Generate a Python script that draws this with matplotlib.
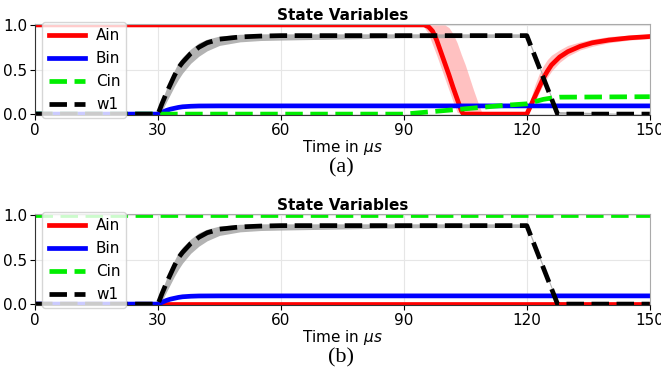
import numpy as np
import matplotlib
matplotlib.use('Agg')
import matplotlib.pyplot as plt

# ---- data (time in us) ----
t_w1 = [0, 30, 31, 32, 33, 34, 35, 36, 38, 40, 42, 45, 50, 55, 60, 90, 120, 127.5, 150]
w1 = [0, 0, 0.12, 0.23, 0.33, 0.43, 0.52, 0.58, 0.68, 0.75, 0.80, 0.84, 0.865, 0.875, 0.88, 0.88, 0.88, 0, 0]
w1_lo = [0, 0, 0.04, 0.13, 0.22, 0.31, 0.39, 0.46, 0.57, 0.65, 0.71, 0.77, 0.81, 0.825, 0.83, 0.855, 0.86, 0, 0]
w1_hi = [0, 0, 0.16, 0.28, 0.39, 0.49, 0.58, 0.64, 0.73, 0.80, 0.84, 0.875, 0.895, 0.9, 0.9, 0.9, 0.9, 0.03, 0]

t_bin = [0, 30, 31, 32, 33, 34, 35, 36, 38, 40, 45, 150]
bin_ = [0, 0, 0.02, 0.04, 0.055, 0.065, 0.075, 0.082, 0.088, 0.091, 0.092, 0.092]

t_ain_a = [0, 95, 96, 97, 98, 99, 100, 101, 102, 103, 104, 104.5, 120, 121, 122, 123, 124,
           125, 126, 128, 130, 133, 136, 140, 145, 150]
ain_a = [1, 1, 0.98, 0.93, 0.83, 0.7, 0.57, 0.44, 0.3, 0.17, 0.04, 0, 0, 0.1, 0.2, 0.3, 0.4,
         0.48, 0.55, 0.64, 0.7, 0.76, 0.8, 0.83, 0.855, 0.87]
t_band_a = [0, 94, 95, 96, 97, 98, 99, 100, 101, 102, 103, 104, 105, 106, 107, 108, 109, 109.5,
            120, 121, 122, 123, 124, 125, 126, 128, 130, 133, 136, 140, 145, 150]
ain_lo = [1, 1, 0.97, 0.9, 0.78, 0.66, 0.53, 0.4, 0.27, 0.14, 0.02, 0, 0, 0, 0, 0, 0, 0,
          0, 0.06, 0.14, 0.24, 0.33, 0.41, 0.48, 0.58, 0.65, 0.72, 0.76, 0.8, 0.83, 0.845]
ain_hi = [1, 1, 1, 1, 1, 1, 1, 1, 0.97, 0.9, 0.8, 0.67, 0.55, 0.41, 0.27, 0.14, 0.02, 0,
          0, 0.18, 0.33, 0.45, 0.54, 0.61, 0.66, 0.72, 0.77, 0.81, 0.84, 0.87, 0.885, 0.895]

t_cin_a = [0, 90, 95, 100, 105, 110, 115, 120, 122, 124, 126, 128, 150]
cin_a = [0, 0, 0.02, 0.04, 0.06, 0.08, 0.1, 0.115, 0.14, 0.165, 0.18, 0.19, 0.195]

t_flat = [0, 150]
ain_b = [0, 0]
cin_b = [1, 1]

xticks = [0, 30, 60, 90, 120, 150]
yticks = [0.0, 0.5, 1.0]

plt.rcParams['font.family'] = 'DejaVu Sans'
plt.rcParams['font.size'] = 11

fig = plt.figure(figsize=(6.61, 3.79), dpi=100)
ax1 = fig.add_axes([0.053, 0.6966, 0.93, 0.24])
ax2 = fig.add_axes([0.053, 0.1953, 0.93, 0.24])

lw = 3.4


def draw(ax, t_a, a, t_c, c, pink=None):
    if pink is not None:
        ax.fill_between(pink[0], pink[1], pink[2], color='#ff9999', alpha=0.6, lw=0)
    ax.fill_between(t_w1, w1_lo, w1_hi, color='#a0a0a0', alpha=0.8, lw=0)
    ax.plot(t_a, a, color='red', lw=lw, label='Ain')
    ax.plot(t_bin, bin_, color='blue', lw=lw, label='Bin')
    ax.plot(t_c, c, color='#00ee00', lw=lw, ls='--', label='Cin')
    ax.plot(t_w1, w1, color='black', lw=lw, ls='--', label='w1')
    ax.set_xlim(0, 150)
    ax.set_ylim(-0.01, 1.01)
    ax.set_xticks(xticks)
    ax.set_yticks(yticks)
    ax.tick_params(pad=2)
    ax.grid(True, color='#e6e6e6', lw=0.8)
    ax.set_axisbelow(True)
    for s in ['top', 'right']:
        ax.spines[s].set_color('#aaaaaa')
    for s in ['left', 'bottom']:
        ax.spines[s].set_color('#333333')
    ax.set_title('State Variables', fontweight='bold', fontsize=11, pad=3)
    ax.set_xlabel('Time in $\\mu s$', labelpad=0)
    ax.legend(loc='upper left', bbox_to_anchor=(0.012, 1.02), borderaxespad=0,
              labelspacing=0.52, handlelength=2.4, handletextpad=0.7,
              fontsize=11, framealpha=0.8, borderpad=0.4)


draw(ax1, t_ain_a, ain_a, t_cin_a, cin_a, pink=(t_band_a, ain_lo, ain_hi))
draw(ax2, t_flat, ain_b, t_flat, cin_b)

fig.text(0.516, 0.557, '(a)', family='Liberation Serif', fontsize=16, ha='center', va='center')
fig.text(0.516, 0.056, '(b)', family='Liberation Serif', fontsize=16, ha='center', va='center')

fig.savefig('out.png', dpi=100)
